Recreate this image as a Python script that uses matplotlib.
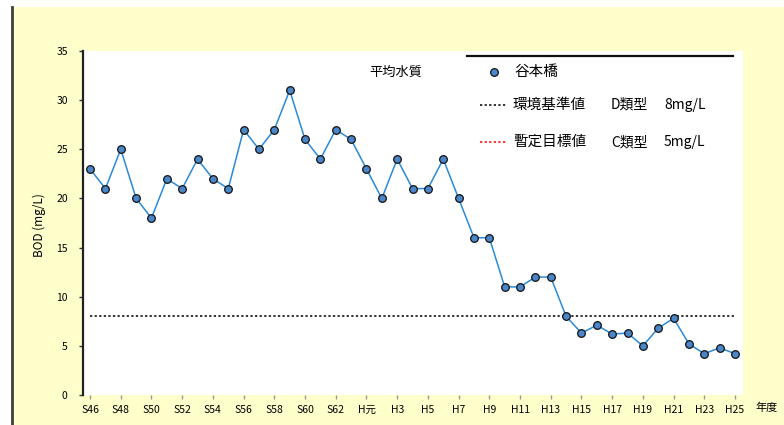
import matplotlib.pyplot as plt
from matplotlib.patches import Rectangle
from matplotlib.lines import Line2D
import numpy as np

plt.rcParams['font.family'] = ['Noto Sans CJK JP', 'DejaVu Sans']

# 年平均 BOD (mg/L), 昭和46年度 ～ 平成25年度
years = ['S46', 'S47', 'S48', 'S49', 'S50', 'S51', 'S52', 'S53', 'S54', 'S55',
         'S56', 'S57', 'S58', 'S59', 'S60', 'S61', 'S62', 'S63',
         'H元', 'H2', 'H3', 'H4', 'H5', 'H6', 'H7', 'H8', 'H9', 'H10',
         'H11', 'H12', 'H13', 'H14', 'H15', 'H16', 'H17', 'H18', 'H19', 'H20',
         'H21', 'H22', 'H23', 'H24', 'H25']
bod = [23, 21, 25, 20, 18, 22, 21, 24, 22, 21,
       27, 25, 27, 31, 26, 24, 27, 26,
       23, 20, 24, 21, 21, 24, 20, 16, 16, 11,
       11, 12, 12, 8.0, 6.3, 7.1, 6.2, 6.3, 5.0, 6.8,
       7.8, 5.2, 4.2, 4.8, 4.2]
std_d = 8    # 環境基準 D類型
std_c = 5    # C類型
yticks = [0, 5, 10, 15, 20, 25, 30, 35]

W, H = 784, 425
fig = plt.figure(figsize=(W / 100, H / 100), dpi=100)
fig.patch.set_facecolor('white')

def fx(px):
    return px / W

def fy(py):
    return 1 - py / H

# pale yellow chart area with a border on the left
fig.patches.append(Rectangle((fx(13), 0), 1 - fx(13), fy(7), transform=fig.transFigure,
                             facecolor='#FFFFCC', edgecolor='none', zorder=-2))
fig.lines.append(Line2D([fx(12), fx(12)], [0, fy(7)], transform=fig.transFigure,
                        color='#404040', lw=2, zorder=-1))

ax = fig.add_axes([fx(83), fy(395), fx(743) - fx(83), fy(51) - fy(395)])
ax.set_zorder(1)
ax.set_facecolor('white')

x = np.arange(len(years))
ax.plot(x, bod, color='#2b8ad8', lw=1.1, marker='o', ms=5.5,
        markerfacecolor='#4a86c8', markeredgecolor='#111111', mew=0.9, zorder=3)
ax.plot([x[0], x[-1]], [std_d, std_d], color='black', lw=1.1,
        linestyle=(0, (1.5, 1.5)), zorder=2)

ax.set_xlim(-0.46, len(years) - 1 + 0.52)
ax.set_ylim(0, 35)
ax.set_yticks(yticks)
ax.set_yticklabels([str(v) for v in yticks], fontsize=7.5)
ax.set_xticks(x[::2])
ax.set_xticklabels(years[::2], fontsize=7.5)
ax.tick_params(axis='y', direction='out', length=3, width=1, color='#333333', pad=8)
ax.tick_params(axis='x', direction='out', length=3, width=1, color='#999999', pad=4)

for s in ['top', 'right', 'bottom']:
    ax.spines[s].set_visible(False)
ax.spines['left'].set_color('#222222')
ax.spines['left'].set_linewidth(1.6)

fig.text(fx(39), fy(225), 'BOD (mg/L)', rotation=90, ha='center', va='center', fontsize=8.5)
fig.text(fx(755), fy(408), '年度', ha='left', va='center', fontsize=8)

# legend block
fig.lines.append(Line2D([fx(467), fx(733)], [fy(56), fy(56)], transform=fig.transFigure,
                        color='#111111', lw=1.6, zorder=3))
fig.text(fx(369), fy(72), '平均水質', ha='left', va='center', fontsize=9.5, zorder=3)
fig.lines.append(Line2D([fx(494)], [fy(72)], transform=fig.transFigure, marker='o', ms=5.5,
                        markerfacecolor='#4a86c8', markeredgecolor='#111111', mew=0.9,
                        linestyle='none', zorder=3))
fig.text(fx(514), fy(72), '谷本橋', ha='left', va='center', fontsize=10.5, zorder=3)

legend_rows = [
    (105, 'black', '環境基準値', 'D類型', f'{std_d}mg/L'),
    (142, 'red', '暫定目標値', 'C類型', f'{std_c}mg/L'),
]
for row_y, c, name, cls, val in legend_rows:
    fig.lines.append(Line2D([fx(480), fx(507)], [fy(row_y), fy(row_y)],
                            transform=fig.transFigure, color=c, lw=1.1,
                            linestyle=(0, (1.5, 1.5)), zorder=3))
    fig.text(fx(513), fy(row_y), name, ha='left', va='center', fontsize=10.5, zorder=3)
    fig.text(fx(611), fy(row_y), cls, ha='left', va='center', fontsize=10, zorder=3)
    fig.text(fx(664), fy(row_y), val, ha='left', va='center', fontsize=10, zorder=3)

fig.savefig('out.png', dpi=100)
